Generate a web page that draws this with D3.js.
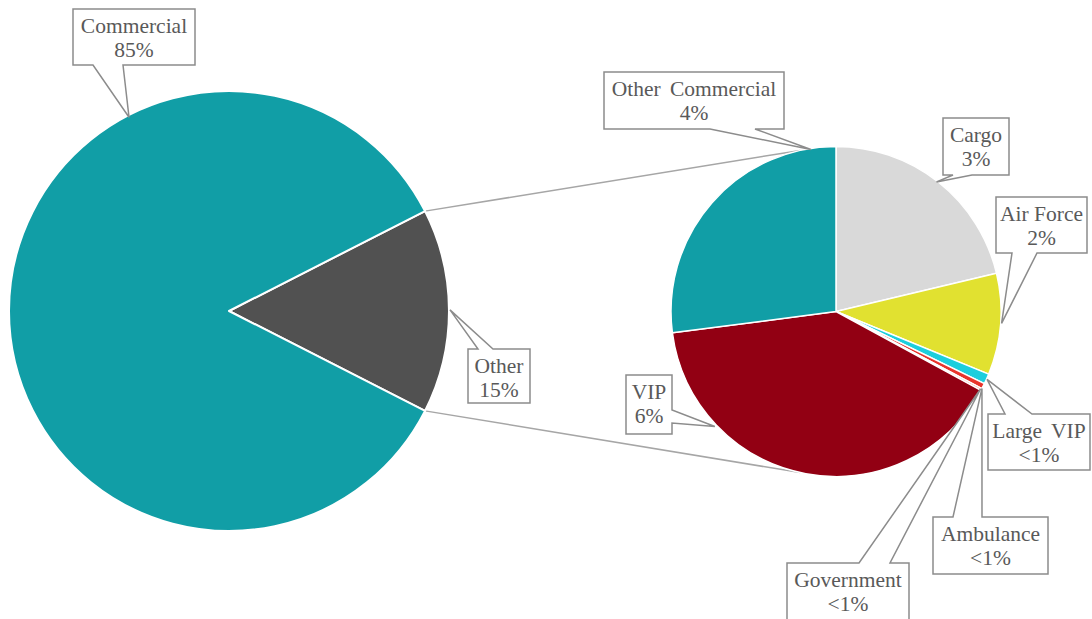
<!DOCTYPE html>
<html>
<head>
<meta charset="utf-8">
<script src="https://cdn.jsdelivr.net/npm/d3@7/dist/d3.min.js"></script>
<style>
  html, body { margin: 0; padding: 0; background: #fff; }
  svg { display: block; }
  .lbl { font-family: "Liberation Serif", "Tinos", "Times New Roman", Times, "DejaVu Serif", serif; font-size: 21.5px; fill: #595959; }
  .wide { word-spacing: 4px; }
</style>
</head>
<body>
<svg id="chart" width="1092" height="619"></svg>
<script>
// ---- Data ----
const mainCategories = ["Other", "Commercial"];
const mainValues = [15, 85];
const mainLabels = ["15%", "85%"];

const subCategories = ["Cargo", "Air Force", "Large VIP", "Ambulance", "Government", "VIP", "Other Commercial"];
const subValues = [3.19, 1.49, 0.15, 0.08, 0.03, 6.0, 4.06];
const subLabels = ["3%", "2%", "<1%", "<1%", "<1%", "6%", "4%"];

// ---- Styles ----
const colors = {
  "Commercial": "#119ea6",
  "Other": "#515151",
  "Cargo": "#d9d9d9",
  "Air Force": "#e1e130",
  "Large VIP": "#1dcedd",
  "Ambulance": "#e8342c",
  "Government": "#f08a80",
  "VIP": "#920013",
  "Other Commercial": "#119ea6"
};

const svg = d3.select("#chart");
const deg = Math.PI / 180;

// ---- Layout ----
const main = { cx: 229, cy: 311, r: 220 };
const sub = { cx: 836, cy: 311.5, r: 165 };

const otherSpan = mainValues[0] / d3.sum(mainValues) * 2 * Math.PI;
const mainPie = d3.pie().sort(null).value(d => d.v)
  .startAngle(Math.PI / 2 - otherSpan / 2)
  .endAngle(Math.PI / 2 - otherSpan / 2 + 2 * Math.PI);
const mainData = mainPie(mainCategories.map((c, i) => ({ c, v: mainValues[i], l: mainLabels[i] })));

const subPie = d3.pie().sort(null).value(d => d.v).startAngle(0).endAngle(2 * Math.PI);
const subData = subPie(subCategories.map((c, i) => ({ c, v: subValues[i], l: subLabels[i] })));

const mainArc = d3.arc().innerRadius(0).outerRadius(main.r);
const subArc = d3.arc().innerRadius(0).outerRadius(sub.r);

function polar(p, angleRad, rr) {
  return [p.cx + rr * Math.sin(angleRad), p.cy - rr * Math.cos(angleRad)];
}

// Connector lines
const otherSlice = mainData.find(d => d.data.c === "Other");
const connAngle = 12.5 * deg;
const conns = [
  [polar(main, otherSlice.startAngle, main.r), polar(sub, -connAngle, sub.r)],
  [polar(main, otherSlice.endAngle, main.r), polar(sub, Math.PI + connAngle, sub.r)]
];
svg.append("g").selectAll("line").data(conns).join("line")
  .attr("x1", d => d[0][0]).attr("y1", d => d[0][1])
  .attr("x2", d => d[1][0]).attr("y2", d => d[1][1])
  .attr("stroke", "#a6a6a6").attr("stroke-width", 1.5);

// Pies
svg.append("g").attr("transform", `translate(${main.cx},${main.cy})`)
  .selectAll("path").data(mainData).join("path")
  .attr("d", mainArc)
  .attr("fill", d => colors[d.data.c])
  .attr("stroke", "#fff").attr("stroke-width", 2).attr("stroke-linejoin", "round");

svg.append("g").attr("transform", `translate(${sub.cx},${sub.cy})`)
  .selectAll("path").data(subData).join("path")
  .attr("d", subArc)
  .attr("fill", d => colors[d.data.c])
  .attr("stroke", "#fff").attr("stroke-width", 1.5).attr("stroke-linejoin", "round");

// ---- Callout labels (layout only) ----
const calloutLayout = {
  "Commercial":       { pie: main, box: [73, 9, 195, 65],    side: "bottom", base: [93, 123],  tip: [-27.3, 218] },
  "Other":            { pie: main, box: [468, 349, 530, 403], side: "top",    base: [478, 493], tip: [89.7, 221] },
  "Other Commercial": { pie: sub,  box: [604, 72, 784, 129],  side: "bottom", base: [710, 755], tip: [-8.8, 164], wide: true },
  "Cargo":            { pie: sub,  box: [943, 118, 1009, 175], side: "bottom", base: [953, 972], tip: [37.8, 164] },
  "Air Force":        { pie: sub,  box: [996, 197, 1087, 253], side: "bottom", base: [1012, 1037], tip: [94.1, 166] },
  "Large VIP":        { pie: sub,  box: [988, 414, 1090, 470], side: "top",    base: [1005, 1032], tip: [114.2, 165.6], wide: true },
  "Ambulance":        { pie: sub,  box: [933, 517, 1048, 574], side: "top",    base: [953, 982], tip: [117.8, 165] },
  "Government":       { pie: sub,  box: [787, 563, 909, 630], side: "top",    base: [859, 890], tip: [118.2, 164] },
  "VIP":              { pie: sub,  box: [626, 375, 672, 434], side: "right",  base: [410, 423], tip: [226.5, 167] }
};

function calloutPath(L) {
  const [x0, y0, x1, y1] = L.box;
  const [a, b] = L.base;
  const t = polar(L.pie, L.tip[0] * deg, L.tip[1]);
  if (L.side === "bottom")
    return `M${x0},${y0}H${x1}V${y1}H${b}L${t[0]},${t[1]}L${a},${y1}H${x0}Z`;
  if (L.side === "top")
    return `M${x0},${y0}H${a}L${t[0]},${t[1]}L${b},${y0}H${x1}V${y1}H${x0}Z`;
  return `M${x0},${y0}H${x1}V${a}L${t[0]},${t[1]}L${x1},${b}V${y1}H${x0}Z`;
}

const labelItems = mainData.map(d => d.data).concat(subData.map(d => d.data));
const lg = svg.append("g");
labelItems.forEach(d => {
  const L = calloutLayout[d.c];
  lg.append("path").attr("d", calloutPath(L))
    .attr("fill", "#fff").attr("stroke", "#8c8c8c").attr("stroke-width", 1.5)
    .attr("stroke-linejoin", "miter");
  const cx = (L.box[0] + L.box[2]) / 2;
  const txt = lg.append("text").attr("class", L.wide ? "lbl wide" : "lbl").attr("text-anchor", "middle");
  txt.append("tspan").attr("x", cx).attr("y", L.box[1] + 24).text(d.c);
  txt.append("tspan").attr("x", cx).attr("y", L.box[1] + 48).text(d.l);
});
</script>
</body>
</html>
